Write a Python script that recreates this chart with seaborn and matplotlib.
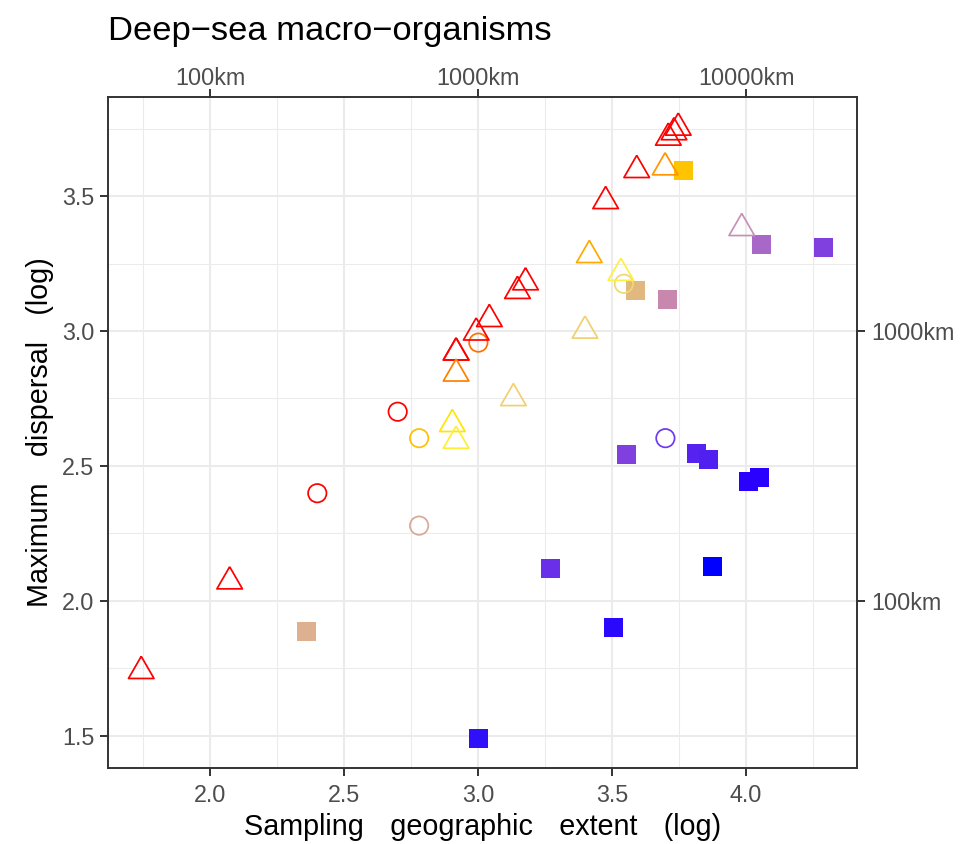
import numpy as np
import pandas as pd
import matplotlib
matplotlib.use("Agg")
import matplotlib.pyplot as plt
import seaborn as sns

# ---------------- data ----------------
tri_x = [1.743, 2.073, 2.918, 2.918, 2.993, 3.042, 3.147, 3.177, 3.476, 3.592,
         3.710, 3.731, 3.747, 2.918, 3.698, 3.415, 2.904, 2.918, 3.533, 3.399,
         3.132, 3.984]
tri_y = [1.740, 2.072, 2.920, 2.920, 2.994, 3.044, 3.148, 3.180, 3.481, 3.596,
         3.716, 3.736, 3.753, 2.842, 3.606, 3.281, 2.655, 2.593, 3.215, 3.001,
         2.751, 3.381]
tri_col = ["#FF0000"] * 13 + ["#FF8000", "#FF9500", "#FFAA00", "#FFE600",
                              "#FFEE33", "#FFEE44", "#F0D070", "#F0D070", "#C890B8"]

circ_x = [2.700, 2.400, 3.001, 2.780, 2.780, 3.544, 3.699]
circ_y = [2.701, 2.399, 2.957, 2.603, 2.279, 3.175, 2.603]
circ_col = ["#FF0000", "#FF0000", "#FF7000", "#FFC000", "#D8A898", "#F0D870", "#7038F0"]

sq_x = [3.766, 3.587, 3.706, 4.057, 4.288, 2.359, 3.001, 3.270, 3.505, 3.553,
        3.815, 3.859, 3.874, 4.009, 4.050]
sq_y = [3.595, 3.151, 3.117, 3.321, 3.310, 1.888, 1.491, 2.121, 1.903, 2.543,
        2.547, 2.525, 2.128, 2.443, 2.458]
sq_col = ["#FFC400", "#E0B880", "#C888AE", "#A868C8", "#8040E0", "#DDB08F",
          "#3010F8", "#6A2FE8", "#2A08FC", "#8040E0", "#5522F0", "#5020F0",
          "#0000FF", "#2A00FF", "#2A00FF"]

x_ticks = [2.0, 2.5, 3.0, 3.5, 4.0]
y_ticks = [1.5, 2.0, 2.5, 3.0, 3.5]
top_ticks = [2, 3, 4]
top_labels = ["100km", "1000km", "10000km"]
right_ticks = [2, 3]
right_labels = ["100km", "1000km"]

GAP = "   \u200a"
title = "Deep\u2212sea macro\u2212organisms"
xlabel = GAP.join(["Sampling", "geographic", "extent", "(log)"])
ylabel = GAP.join(["Maximum", "dispersal", "(log)"])

# ---------------- style ----------------
sns.set_theme(style="white")
plt.rcParams["font.family"] = ["Liberation Sans", "DejaVu Sans"]

W, H = 963, 844
fig = plt.figure(figsize=(W / 100, H / 100), dpi=100)
L, R, T, B = 108, 857, 97, 768
ax = fig.add_axes([L / W, 1 - B / H, (R - L) / W, (B - T) / H])

tri_marker = [(0, 0.5774), (-0.5, -0.2887), (0.5, -0.2887), (0, 0.5774)]

df_t = pd.DataFrame({"x": tri_x, "y": tri_y, "c": tri_col})
df_c = pd.DataFrame({"x": circ_x, "y": circ_y, "c": circ_col})
df_s = pd.DataFrame({"x": sq_x, "y": sq_y, "c": sq_col})

def hollow(coll, lw):
    fc = coll.get_facecolors()
    coll.set_edgecolors(fc)
    coll.set_facecolors("none")
    coll.set_linewidths(lw)

sns.scatterplot(data=df_s, x="x", y="y", hue="c", palette={c: c for c in sq_col},
                marker="s", s=185, linewidth=0, legend=False, ax=ax, zorder=3)
sns.scatterplot(data=df_c, x="x", y="y", hue="c", palette={c: c for c in circ_col},
                marker="o", s=175, legend=False, ax=ax, zorder=4)
hollow(ax.collections[-1], 1.25)
sns.scatterplot(data=df_t, x="x", y="y", hue="c", palette={c: c for c in tri_col},
                marker=tri_marker, s=450, legend=False, ax=ax, zorder=5)
hollow(ax.collections[-1], 1.25)

ax.set_xlim(1.619, 4.414)
ax.set_ylim(1.381, 3.867)
ax.set_xticks(x_ticks)
ax.set_yticks(y_ticks)
ax.set_xticklabels([f"{v:.1f}" for v in x_ticks])
ax.set_yticklabels([f"{v:.1f}" for v in y_ticks])
ax.set_xticks([1.75, 2.25, 2.75, 3.25, 3.75, 4.25], minor=True)
ax.set_yticks([1.75, 2.25, 2.75, 3.25, 3.75], minor=True)
ax.grid(True, which="major", color="#EBEBEB", linewidth=1.5)
ax.grid(True, which="minor", color="#EBEBEB", linewidth=0.75)
ax.set_axisbelow(True)
for s in ax.spines.values():
    s.set_color("#333333")
    s.set_linewidth(1.4)

tick_kw = dict(length=5.5, width=1.4, color="#333333", labelcolor="#4D4D4D",
               labelsize=16.8)
ax.tick_params(axis="x", which="major", bottom=True, pad=6, **tick_kw)
ax.tick_params(axis="y", which="major", left=True, pad=4.4, **tick_kw)
ax.tick_params(axis="both", which="minor", length=0)
ax.set_xlabel(xlabel, fontsize=20.7, color="black")
ax.xaxis.set_label_coords(0.5, -0.0677)
ax.set_ylabel(ylabel, fontsize=20.7, color="black")
ax.yaxis.set_label_coords(-0.072, 0.5)

top = ax.secondary_xaxis("top")
top.set_xticks(top_ticks)
top.set_xticklabels(top_labels)
top.tick_params(pad=-0.4, **tick_kw)
top.spines["top"].set_visible(False)

right = ax.secondary_yaxis("right")
right.set_yticks(right_ticks)
right.set_yticklabels(right_labels)
right.tick_params(pad=4.4, **tick_kw)
right.spines["right"].set_visible(False)

fig.text(L / W, 1 - 40 / H, title, fontsize=24.8, color="black",
         ha="left", va="baseline")

fig.savefig("out.png", dpi=100, facecolor="white")
